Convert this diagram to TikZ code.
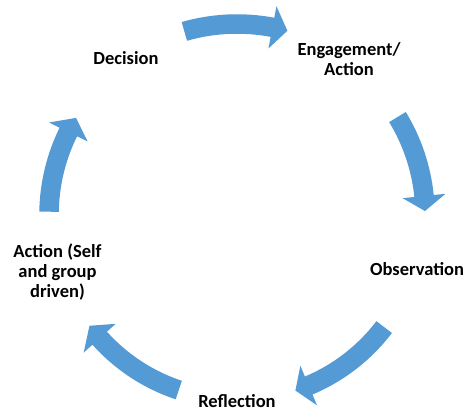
\documentclass[tikz,border=0pt]{standalone}
\usepackage{fontspec}
\setmainfont{Carlito}
\usetikzlibrary{calc}
\definecolor{cycleblue}{RGB}{84,155,213}
\tikzset{
  arrowfill/.style={fill=cycleblue, draw=none},
  lbl/.style={font=\bfseries\fontsize{18.5}{20}\selectfont, inner sep=0pt, align=center, anchor=base, text=black}
}
% tail angle, head-base angle, tip angle, radius
\newcommand\cyclearrow[4]{%
  \fill[arrowfill] ($(C)+(#1:#4+9.75)$) arc[start angle=#1, end angle=#2, radius=#4+9.75]
    -- ($(C)+(#2:#4+21.5)$) -- ($(C)+(#3:#4)$) -- ($(C)+(#2:#4-21.5)$)
    -- ($(C)+(#2:#4-9.75)$) arc[start angle=#2, end angle=#1, radius=#4-9.75] -- cycle;}
\begin{document}
\begin{tikzpicture}[x=1pt,y=1pt]
\useasboundingbox (0,0) rectangle (465,411);
\fill[white] (0,0) rectangle (465,411);
\coordinate (C) at (237,196);
\cyclearrow{106}{79.3}{74.7}{191}
\cyclearrow{31.4}{5.8}{1.2}{188}
\cyclearrow{-37.3}{-67.2}{-71.6}{185}
\cyclearrow{-108.4}{-138.1}{-143.1}{184.5}
\cyclearrow{179}{153.8}{148.9}{188}
\node[lbl] (d) at (126,346) {Decision};
\node[lbl] (e) at (349,335) {Engagement/\\Action};
\node[lbl] (o) at (417,135.7) {Observation};
\node[lbl] (r) at (237,3.3) {Reflection};
\node[lbl] (a) at (57.5,113) {Action (Self\\and group\\driven)};
\end{tikzpicture}
\end{document}
